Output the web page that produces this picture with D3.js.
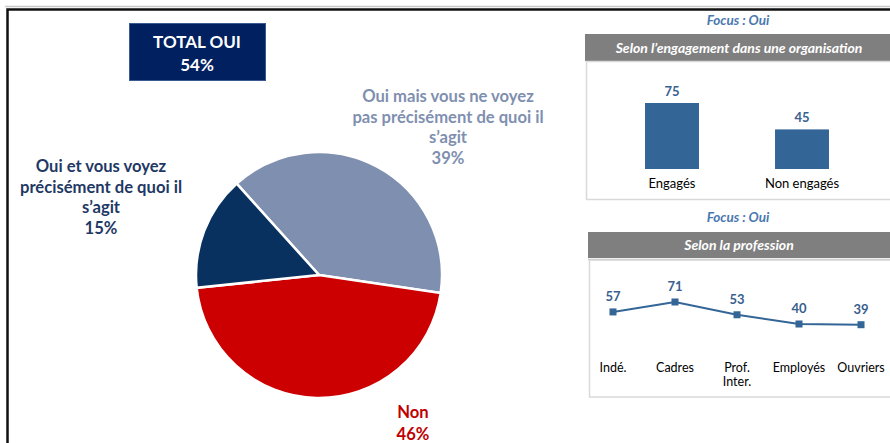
<!DOCTYPE html>
<html>
<head>
<meta charset="utf-8">
<script src="https://cdn.jsdelivr.net/npm/d3@7"></script>
<style>
  html, body { margin: 0; padding: 0; background: #fff; }
  svg { display: block; font-family: Lato, "Open Sans", sans-serif; }
</style>
</head>
<body>
<div id="chart"></div>
<script>
'use strict';

// Pie: total answer split
const pieLabels = [
    ['Oui mais vous ne voyez', 'pas précisément de quoi il', 's\u2019agit'],
    ['Non'],
    ['Oui et vous voyez', 'précisément de quoi il', 's\u2019agit']
];
const pieValues = [39, 46, 15];
const pieColors = ['#7F8FAF', '#CC0000', '#08315F'];
const pieTextColors = ['#7F8FB0', '#C00000', '#1F3864'];
const totalLabel = ['TOTAL OUI', '54%'];

// Focus : Oui, by engagement
const engagementCategories = ['Engagés', 'Non engagés'];
const engagementValues = [75, 45];

// Focus : Oui, by profession
const professionCategories = [['Indé.'], ['Cadres'], ['Prof.', 'Inter.'], ['Employés'], ['Ouvriers']];
const professionValues = [57, 71, 53, 40, 39];

function buildChart() {
    const width = 890;
    const height = 443;

    const svg = d3.select('#chart')
        .append('svg')
            .attr('width', width)
            .attr('height', height);

    // outer frame
    svg.append('line')
        .attr('x1', 5).attr('x2', width)
        .attr('y1', 6.5).attr('y2', 6.5)
        .attr('stroke', '#c8c8c8')
        .attr('stroke-width', 1.5);
    svg.append('rect')
        .attr('x', 7.5).attr('y', 9.5)
        .attr('width', width + 20).attr('height', height + 20)
        .attr('fill', 'none')
        .attr('stroke', '#111')
        .attr('stroke-width', 2.5);

    // total box
    svg.append('rect')
        .attr('x', 129.5).attr('y', 23.5)
        .attr('width', 136).attr('height', 57)
        .attr('fill', '#002060')
        .attr('stroke', '#3b5a8f')
        .attr('stroke-width', 1);
    svg.append('g')
        .selectAll('text')
        .data(totalLabel)
        .enter()
        .append('text')
            .attr('x', 197)
            .attr('y', (d, i) => 48 + i * 23)
            .attr('text-anchor', 'middle')
            .attr('font-size', 17)
            .attr('font-weight', 'bold')
            .attr('fill', '#fff')
            .text(d => d);

    // pie
    const cx = 319, cy = 275, radius = 123;
    const pie = d3.pie()
        .sort(null)
        .startAngle(-42 * Math.PI / 180)
        .endAngle((360 - 42) * Math.PI / 180);
    const arc = d3.arc().innerRadius(0).outerRadius(radius);

    svg.append('g')
        .attr('transform', `translate(${cx},${cy})`)
        .selectAll('path')
        .data(pie(pieValues))
        .enter()
        .append('path')
            .attr('d', arc)
            .attr('fill', (d, i) => pieColors[i])
            .attr('stroke', '#fff')
            .attr('stroke-width', 2.5);

    const labelPos = [[448, 102], [413, 418], [101, 172]];
    pieLabels.forEach((lines, i) => {
        const all = lines.concat([`${pieValues[i]}%`]);
        const lh = i === 1 ? 22 : 20.7;
        svg.append('g')
            .selectAll('text')
            .data(all)
            .enter()
            .append('text')
                .attr('x', labelPos[i][0])
                .attr('y', (d, j) => labelPos[i][1] + j * lh)
                .attr('text-anchor', 'middle')
                .attr('font-size', 16.6)
                .attr('font-weight', 'bold')
                .attr('fill', pieTextColors[i])
                .text(d => d);
    });

    const focusColor = '#4A78B0';
    const barColor = '#336597';
    const valueColor = '#3A6090';

    function panelHeader(x, yFocus, yBox, boxH, title) {
        svg.append('text')
            .attr('x', 738).attr('y', yFocus)
            .attr('text-anchor', 'middle')
            .attr('font-size', 13.5)
            .attr('font-style', 'italic')
            .attr('font-weight', 'bold')
            .attr('fill', focusColor)
            .text('Focus : Oui');
        svg.append('rect')
            .attr('x', x).attr('y', yBox)
            .attr('width', width - x + 5).attr('height', boxH)
            .attr('fill', '#7F7F7F');
        svg.append('text')
            .attr('x', 739).attr('y', yBox + boxH / 2 + 5)
            .attr('text-anchor', 'middle')
            .attr('font-size', 14)
            .attr('font-style', 'italic')
            .attr('font-weight', 'bold')
            .attr('fill', '#fff')
            .text(title);
    }

    // panel 1: engagement bars
    panelHeader(585, 25, 34, 27, 'Selon l\u2019engagement dans une organisation');
    svg.append('rect')
        .attr('x', 586.5).attr('y', 61.5)
        .attr('width', width).attr('height', 138)
        .attr('fill', 'none')
        .attr('stroke', '#d9d9d9')
        .attr('stroke-width', 1.5);

    const xBar = d3.scaleBand()
        .domain(engagementCategories)
        .range([607, 867])
        .paddingInner(0.585)
        .paddingOuter(0.2925);
    const yBar = d3.scaleLinear()
        .domain([0, 100])
        .range([169, 81]);

    const bars = svg.append('g');
    bars.selectAll('rect')
        .data(engagementValues)
        .enter()
        .append('rect')
            .attr('x', (d, i) => xBar(engagementCategories[i]))
            .attr('y', d => yBar(d))
            .attr('width', xBar.bandwidth())
            .attr('height', d => yBar(0) - yBar(d))
            .attr('fill', barColor);
    bars.selectAll('text.val')
        .data(engagementValues)
        .enter()
        .append('text')
            .attr('class', 'val')
            .attr('x', (d, i) => xBar(engagementCategories[i]) + xBar.bandwidth() / 2)
            .attr('y', d => yBar(d) - 7)
            .attr('text-anchor', 'middle')
            .attr('font-size', 13)
            .attr('font-weight', 'bold')
            .attr('fill', valueColor)
            .text(d => d);
    bars.selectAll('text.cat')
        .data(engagementCategories)
        .enter()
        .append('text')
            .attr('class', 'cat')
            .attr('x', d => xBar(d) + xBar.bandwidth() / 2)
            .attr('y', 187.5)
            .attr('text-anchor', 'middle')
            .attr('font-size', 13)
            .attr('fill', '#000')
            .text(d => d);

    // panel 2: profession line
    panelHeader(588, 222, 232, 26, 'Selon la profession');
    svg.append('line')
        .attr('x1', 588).attr('x2', width)
        .attr('y1', 259.5).attr('y2', 259.5)
        .attr('stroke', '#bfbfbf')
        .attr('stroke-width', 1.5);
    svg.append('rect')
        .attr('x', 589.5).attr('y', 260)
        .attr('width', width).attr('height', 137)
        .attr('fill', 'none')
        .attr('stroke', '#d9d9d9')
        .attr('stroke-width', 1.5);

    const xLine = d3.scalePoint()
        .domain(professionCategories.map(d => d.join(' ')))
        .range([613, 861]);
    const yLine = d3.scaleLinear()
        .domain([0, 100])
        .range([352.4, 281.4]);
    const pts = professionValues.map((v, i) => ({
        x: xLine(professionCategories[i].join(' ')),
        y: yLine(v),
        v
    }));

    const lineG = svg.append('g');
    lineG.append('path')
        .datum(pts)
        .attr('fill', 'none')
        .attr('stroke', barColor)
        .attr('stroke-width', 2)
        .attr('d', d3.line().x(d => d.x).y(d => d.y));
    lineG.selectAll('rect')
        .data(pts)
        .enter()
        .append('rect')
            .attr('x', d => d.x - 3.5)
            .attr('y', d => d.y - 3.5)
            .attr('width', 7)
            .attr('height', 7)
            .attr('fill', barColor);
    lineG.selectAll('text.val')
        .data(pts)
        .enter()
        .append('text')
            .attr('class', 'val')
            .attr('x', d => d.x)
            .attr('y', d => d.y - 11)
            .attr('text-anchor', 'middle')
            .attr('font-size', 13)
            .attr('font-weight', 'bold')
            .attr('fill', valueColor)
            .text(d => d.v);

    professionCategories.forEach((lines, i) => {
        lineG.append('g')
            .selectAll('text')
            .data(lines)
            .enter()
            .append('text')
                .attr('x', xLine(lines.join(' ')))
                .attr('y', (d, j) => 372 + j * 14)
                .attr('text-anchor', 'middle')
                .attr('font-size', 12.5)
                .attr('fill', '#000')
                .text(d => d);
    });
}

window.addEventListener('DOMContentLoaded', () => {
    buildChart();
});
</script>
</body>
</html>
